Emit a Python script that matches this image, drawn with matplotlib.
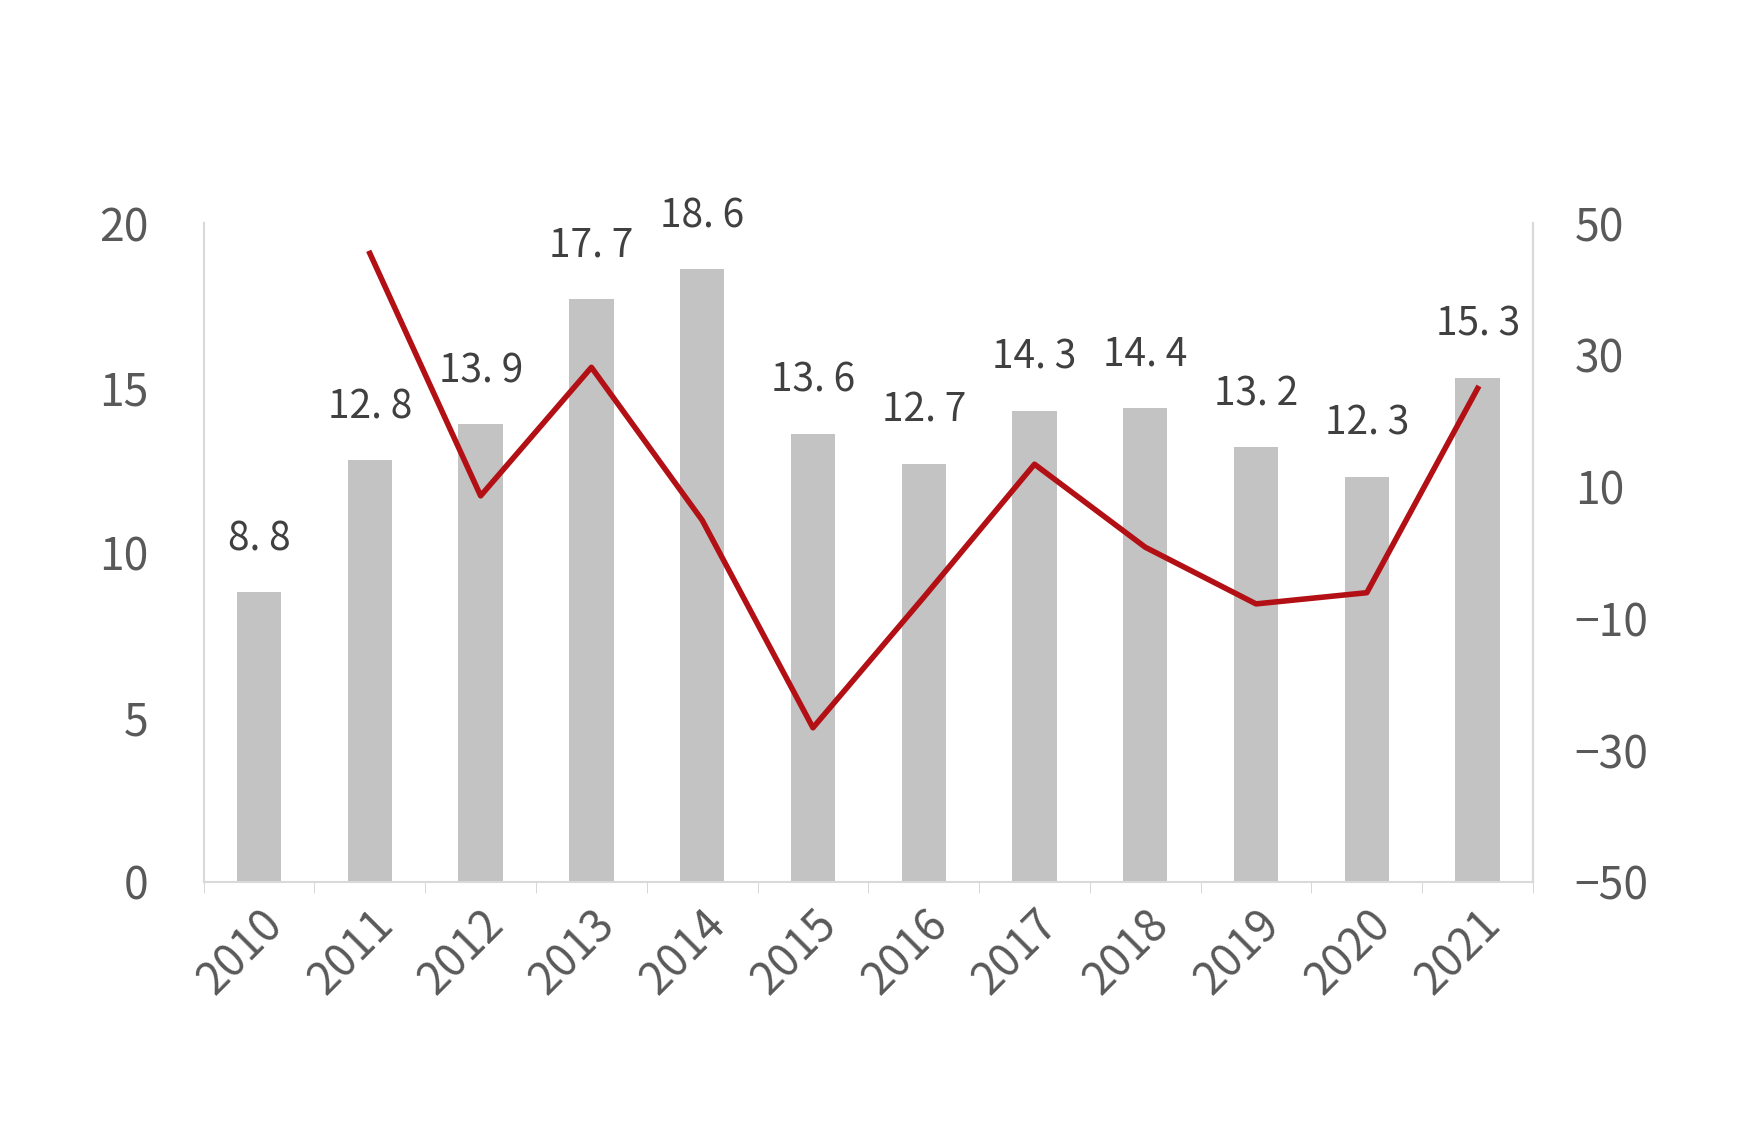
import matplotlib
matplotlib.use("Agg")
import matplotlib.pyplot as plt
import numpy as np

years = ["2010","2011","2012","2013","2014","2015","2016","2017","2018","2019","2020","2021"]
bars = [8.8,12.8,13.9,17.7,18.6,13.6,12.7,14.3,14.4,13.2,12.3,15.3]
growth = [np.nan,45.4,8.6,28.1,4.9,-26.6,-6.8,13.4,0.8,-7.8,-6.1,24.9]

plt.rcParams['font.family'] = ['Noto Sans CJK SC', 'DejaVu Sans']
fig = plt.figure(figsize=(17.56,11.38), dpi=100)
ax = fig.add_axes([0.116,0.225,0.757,0.579])
x = np.arange(len(years))
ax.bar(x, bars, width=0.4, color='#c3c3c3', zorder=1)
for xi, v in zip(x, bars):
    ax.text(xi, v+1.0, f"{v:.1f}".replace('.', '. '), ha='center', va='bottom', fontsize=28, color='#404040', zorder=5)
ax.set_xlim(-0.5, len(years)-0.5)
ax.set_ylim(0,20)
ax.set_yticks([0,5,10,15,20])
ax.set_xticks(x)
ax.set_xticklabels(years, rotation=45, ha='right', rotation_mode='anchor')
ax.set_xticks(np.arange(-0.5,len(years),1), minor=True)
ax.tick_params(axis='x', which='major', length=0, labelsize=32, labelcolor='#595959', pad=14)
ax.tick_params(axis='x', which='minor', length=8, color='#d0d0d0')
ax.tick_params(axis='y', length=0, labelsize=32, labelcolor='#595959', pad=40)
ax.spines['top'].set_visible(False)
for s in ['left','right','bottom']:
    ax.spines[s].set_color('#d9d9d9'); ax.spines[s].set_linewidth(1.5)
ax2 = ax.twinx()
ax2.plot(x, growth, color='#b21015', lw=4, zorder=3)
ax2.set_ylim(-50,50)
ax2.set_yticks([-50,-30,-10,10,30,50])
ax2.set_yticklabels(['\u221250','\u221230','\u221210','10','30','50'])
ax2.tick_params(axis='y', length=0, labelsize=32, labelcolor='#595959', pad=30)
for s in ['top','left','bottom']:
    ax2.spines[s].set_visible(False)
ax2.spines['right'].set_color('#d9d9d9'); ax2.spines['right'].set_linewidth(1.5)
fig.savefig("out.png")
